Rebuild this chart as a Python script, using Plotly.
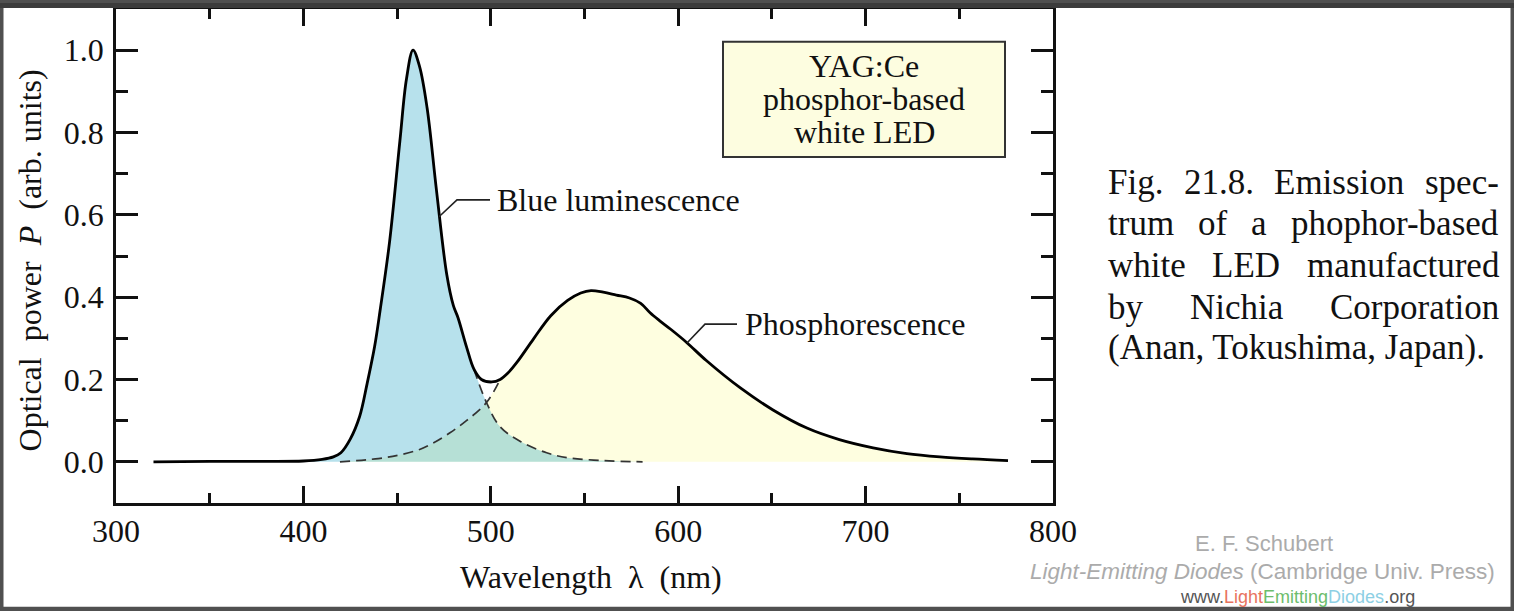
import plotly.graph_objects as go

# emission spectrum of a YAG:Ce phosphor-based white LED
total_wl = [320, 350, 380, 400, 410, 416, 420, 425, 430, 434, 438, 441, 446, 451.5, 455,
            458.5, 462, 466, 471, 476.5, 480, 482.5, 487, 491, 495, 500.5, 505, 509, 514,
            523, 532, 541, 548, 553.5, 560, 567, 574, 580, 585, 590, 596, 604.5, 615, 633,
            650.6, 668.7, 686, 704, 722, 739.7, 757, 776]
total_p = [0, 0.001, 0.001, 0.002, 0.006, 0.012, 0.022, 0.055, 0.11, 0.19, 0.28, 0.37, 0.535,
           0.78, 0.93, 1.0, 0.96, 0.86, 0.66, 0.455, 0.38, 0.35, 0.28, 0.225, 0.2, 0.194, 0.2,
           0.215, 0.242, 0.30, 0.355, 0.392, 0.41, 0.416, 0.412, 0.405, 0.398, 0.385, 0.362,
           0.343, 0.322, 0.29, 0.246, 0.18, 0.126, 0.082, 0.054, 0.034, 0.02, 0.012, 0.007, 0.003]

# dashed tail of the blue component (leaves the solid curve at 491 nm)
blue_tail_wl = [497.7, 505, 515.6, 529.8, 541, 560, 581]
blue_tail_p = [0.144, 0.085, 0.05, 0.022, 0.01, 0.003, 0.0]

# dashed head of the phosphor component (joins the solid curve at 505 nm)
phos_head_wl = [419.5, 440, 451.5, 462, 469, 478, 487, 497.7]
phos_head_p = [0, 0.008, 0.017, 0.03, 0.045, 0.07, 0.10, 0.144]

BLUE_SPLIT = 491
PHOS_JOIN = 505

caption_lines = [
    ["Fig.", "21.8.", "Emission", "spec-"],
    ["trum", "of", "a", "phophor-based"],
    ["white", "LED", "manufactured"],
    ["by", "Nichia", "Corporation"],
]
caption_last = "(Anan, Tokushima, Japan)."

# build the component curves from the pieces
blue_wl = [w for w in total_wl if w <= BLUE_SPLIT] + blue_tail_wl
blue_p = [p for w, p in zip(total_wl, total_p) if w <= BLUE_SPLIT] + blue_tail_p
phos_wl = phos_head_wl + [w for w in total_wl if w >= PHOS_JOIN]
phos_p = phos_head_p + [p for w, p in zip(total_wl, total_p) if w >= PHOS_JOIN]
i_split = total_wl.index(BLUE_SPLIT)
i_join = total_wl.index(PHOS_JOIN)

W, H = 1514, 611
L, R, T, B = 116, 1053, 6, 503


def px(x):
    return (x - L) / (R - L)


def py(y):
    return (B - y) / (B - T)


SERIF = "Liberation Serif"
FS = 32
FS_CAP = 35

fig = go.Figure()

# phosphor area first, then a translucent blue on top so the overlap turns teal
fig.add_trace(go.Scatter(x=phos_wl, y=phos_p, mode="lines", fill="tozeroy",
                         fillcolor="#fefee0", line=dict(width=0, shape="spline"),
                         hoverinfo="skip"))
fig.add_trace(go.Scatter(x=blue_wl, y=blue_p, mode="lines", fill="tozeroy",
                         fillcolor="rgba(15,155,192,0.3)", line=dict(width=0, shape="spline"),
                         hoverinfo="skip"))

dash = dict(color="#333", width=1.7, dash="10px,6px", shape="spline")
fig.add_trace(go.Scatter(x=[total_wl[i_split]] + blue_tail_wl,
                         y=[total_p[i_split]] + blue_tail_p,
                         mode="lines", line=dash, hoverinfo="skip"))
fig.add_trace(go.Scatter(x=phos_head_wl + [total_wl[i_join]],
                         y=phos_head_p + [total_p[i_join]],
                         mode="lines", line=dash, hoverinfo="skip"))
fig.add_trace(go.Scatter(x=total_wl, y=total_p, mode="lines",
                         line=dict(color="black", width=2.8, shape="spline"),
                         hoverinfo="skip"))

shapes = []
annotations = []

# labels with leader lines
shapes.append(dict(type="path", xref="paper", yref="paper",
                   path=f"M {px(439)} {py(215)} L {px(457)} {py(198)} L {px(490)} {py(198)}",
                   line=dict(color="#222", width=1.6)))
shapes.append(dict(type="path", xref="paper", yref="paper",
                   path=f"M {px(687)} {py(342)} L {px(705)} {py(323)} L {px(737)} {py(323)}",
                   line=dict(color="#222", width=1.6)))
annotations.append(dict(text="Blue luminescence", x=px(496), y=py(198), xanchor="left"))
annotations.append(dict(text="Phosphorescence", x=px(744), y=py(323), xanchor="left"))

# YAG:Ce box, three tightly spaced lines
shapes.append(dict(type="rect", xref="paper", yref="paper", x0=px(723), x1=px(1005),
                   y0=py(155), y1=py(39), fillcolor="#fdfde0",
                   line=dict(color="#333", width=2)))
for txt, yy, anchor in [("YAG:Ce", 82, "bottom"), ("phosphor-based", 97, "middle"),
                        ("white LED", 111, "top")]:
    annotations.append(dict(text=txt, x=px(864), y=py(yy), xanchor="center", yanchor=anchor))

# axis titles
annotations.append(dict(text="Wavelength\u00a0\u00a0\u03bb\u00a0\u00a0(nm)",
                        x=px(591), y=py(577), xanchor="center"))
annotations.append(dict(text="Optical\u00a0\u00a0power\u00a0\u00a0<i>P</i>\u00a0\u00a0(arb. units)",
                        x=px(30), y=py(259), xanchor="center", textangle=-90))

for a in annotations:
    a["font"] = dict(family=SERIF, size=FS, color="#111")

# justified caption, words spread between the left and right edges
TIMES = {" ": 250, "(": 333, ")": 333, ",": 250, "-": 333, ".": 250, "1": 500, "2": 500,
         "8": 500, ":": 278, "A": 722, "C": 667, "D": 722, "E": 611, "F": 556, "J": 389,
         "L": 611, "N": 722, "T": 611, "a": 444, "b": 500, "c": 444, "d": 500, "e": 444,
         "f": 333, "g": 500, "h": 500, "i": 278, "k": 500, "l": 278, "m": 778, "n": 500,
         "o": 500, "p": 500, "r": 333, "s": 389, "t": 278, "u": 500, "w": 722, "y": 500}


def text_w(s, size):
    return sum(TIMES.get(c, 500) for c in s) * size / 1000


CAP_L, CAP_R = 1107, 1498
cap_y = [181, 222, 264, 306]
for words, yy in zip(caption_lines, cap_y):
    widths = [text_w(w, FS_CAP) for w in words]
    gap = (CAP_R - CAP_L - sum(widths)) / (len(words) - 1)
    xx = CAP_L
    for w, ww in zip(words, widths):
        annotations.append(dict(text=w, x=px(xx), y=py(yy), xanchor="left",
                                font=dict(family=SERIF, size=FS_CAP, color="#111")))
        xx += ww + gap
annotations.append(dict(text=caption_last, x=px(CAP_L), y=py(347), xanchor="left",
                        font=dict(family=SERIF, size=FS_CAP, color="#111")))

for a in annotations:
    a.setdefault("yanchor", "middle")
    a.update(xref="paper", yref="paper", showarrow=False, borderpad=0)

# credit lines
SANS = "Liberation Sans"
credits = [
    dict(text="E. F. Schubert", x=px(1264), y=py(544),
         font=dict(family=SANS, size=22, color="#ababab")),
    dict(text="<i>Light-Emitting Diodes</i> (Cambridge Univ. Press)", x=px(1262), y=py(572),
         font=dict(family=SANS, size=22.5, color="#ababab")),
    dict(text="www.<span style='color:#e8735e'>Light</span>"
              "<span style='color:#6cbd6c'>Emitting</span>"
              "<span style='color:#8dcfe4'>Diodes</span>.org",
         x=px(1297), y=py(598), font=dict(family=SANS, size=18, color="#555")),
]
for a in credits:
    a.update(xref="paper", yref="paper", showarrow=False, xanchor="center", yanchor="middle")
annotations += credits

# screenshot frame
shapes.append(dict(type="rect", xref="paper", yref="paper", x0=px(0), x1=px(W),
                   y0=py(H), y1=py(0), line=dict(color="#505050", width=7), layer="above"))
shapes.append(dict(type="rect", xref="paper", yref="paper", x0=px(0), x1=px(W),
                   y0=py(5), y1=py(0), fillcolor="#3c3c3c", line=dict(width=0), layer="above"))

axis_common = dict(showgrid=False, zeroline=False, showline=True, linecolor="#111",
                   linewidth=2.5, mirror="allticks", ticks="inside", tickcolor="#111",
                   tickwidth=2.5, tickfont=dict(family=SERIF, size=FS, color="#111"))

fig.update_layout(
    width=W, height=H,
    margin=dict(l=L, r=W - R, t=T, b=H - B),
    paper_bgcolor="white", plot_bgcolor="white",
    showlegend=False,
    xaxis=dict(range=[300, 800], tick0=300, dtick=100, ticklen=17, ticklabelstandoff=-2,
               minor=dict(dtick=50, ticklen=10, ticks="inside", tickcolor="#111", tickwidth=2.5),
               **axis_common),
    yaxis=dict(range=[-0.1, 1.1], tick0=0, dtick=0.2, tickformat=".1f", ticklen=22,
               ticklabelstandoff=3,
               minor=dict(dtick=0.1, ticklen=12, ticks="inside", tickcolor="#111", tickwidth=2.5),
               **axis_common),
    shapes=shapes,
    annotations=annotations,
)

fig.write_html("out.html", config={"displayModeBar": False},
               post_script="document.body.style.margin='0';document.body.style.overflow='hidden';")
